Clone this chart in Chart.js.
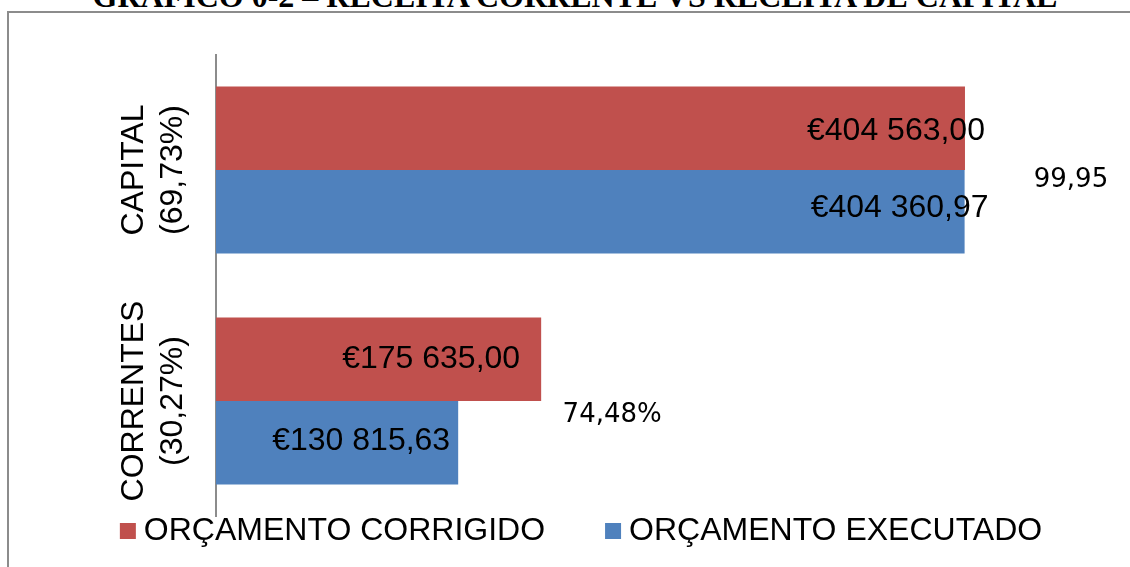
<!DOCTYPE html>
<html>
<head>
<meta charset="utf-8">
<script src="https://cdn.jsdelivr.net/npm/chart.js@4.4.1/dist/chart.umd.min.js"></script>
<style>
  html, body { margin: 0; padding: 0; background: #fff; overflow: hidden; }
  body { width: 1130px; height: 567px; position: relative; }
  #frame {
    position: absolute; left: 7px; top: 11px; width: 1300px; height: 700px;
    border-left: 2px solid #8c8c8c; border-top: 2px solid #8c8c8c;
  }
  #title {
    position: absolute; left: 0; width: 1150px; top: -22px; text-align: center;
    font: bold 32px "Liberation Serif", "Times New Roman", serif; color: #000;
    white-space: nowrap;
  }
  #wrap { position: absolute; left: 0; top: 0; width: 1130px; height: 567px; }
</style>
</head>
<body>
<div id="frame"></div>
<div id="title">GRÁFICO 0-2 – RECEITA CORRENTE VS RECEITA DE CAPITAL</div>
<div id="wrap"><canvas id="barChart"></canvas></div>
<script>
const categories = ["CAPITAL", "CORRENTES"];
const shares = ["(69,73%)", "(30,27%)"];
const corrigido = [404563.0, 175635.0];
const executado = [404360.97, 130815.63];
const execucao = ["99,95", "74,48%"];

const seriesNames = ["ORÇAMENTO CORRIGIDO", "ORÇAMENTO EXECUTADO"];
const seriesColors = ["#C0504D", "#4F81BD"];

function euro(v) {
  const parts = v.toFixed(2).split(".");
  const int = parts[0].replace(/\B(?=(\d{3})+(?!\d))/g, " ");
  return "€" + int + "," + parts[1];
}

// label shifts from bar end: [dataset][bar] -> [dx, dy]
const labelShift = [
  [[-69, 3], [-110, 0]],
  [[-65, -4], [-97, -2]],
];
const ratioShift = [[106, 10], [71, 14]];

const overlay = {
  id: "overlay",
  afterDatasetsDraw(chart) {
    const ctx = chart.ctx;
    const yScale = chart.scales.y;
    ctx.save();
    ctx.fillStyle = "#000";

    // value labels
    ctx.font = '32px "Liberation Sans", Arial, sans-serif';
    ctx.textAlign = "center";
    ctx.textBaseline = "middle";
    chart.data.datasets.forEach((ds, i) => {
      chart.getDatasetMeta(i).data.forEach((bar, j) => {
        const s = labelShift[i][j];
        ctx.fillText(euro(ds.data[j]), bar.x + s[0], bar.y + s[1]);
      });
    });

    // execution ratio
    ctx.font = '26px "DejaVu Sans", sans-serif';
    const redMeta = chart.getDatasetMeta(0);
    execucao.forEach((t, j) => {
      const bar = redMeta.data[j];
      ctx.fillText(t, bar.x + ratioShift[j][0], yScale.getPixelForValue(j) + ratioShift[j][1]);
    });

    // rotated category labels
    ctx.font = '32px "Liberation Sans", Arial, sans-serif';
    categories.forEach((c, j) => {
      const yc = yScale.getPixelForValue(j);
      ctx.save();
      ctx.translate(134, yc);
      ctx.rotate(-Math.PI / 2);
      ctx.fillText(c, 0, 0);
      ctx.fillText(shares[j], 0, 39);
      ctx.restore();
    });

    // legend
    ctx.textAlign = "left";
    const box = 16, gapText = 8, gapItem = 60;
    const widths = seriesNames.map((n) => ctx.measureText(n).width);
    const total = widths.reduce((a, w) => a + box + gapText + w, 0) + gapItem;
    let x = (32 + chart.width) / 2 - total / 2;
    const ly = 531;
    seriesNames.forEach((n, i) => {
      ctx.fillStyle = seriesColors[i];
      ctx.fillRect(x, ly - 8, box, box);
      ctx.fillStyle = "#000";
      ctx.fillText(n, x + box + gapText, ly);
      x += box + gapText + widths[i] + gapItem;
    });
    ctx.restore();
  },
};

new Chart(document.getElementById("barChart"), {
  type: "bar",
  data: {
    labels: categories,
    datasets: [
      { label: seriesNames[0], data: corrigido, backgroundColor: seriesColors[0] },
      { label: seriesNames[1], data: executado, backgroundColor: seriesColors[1] },
    ],
  },
  options: {
    indexAxis: "y",
    responsive: true,
    maintainAspectRatio: false,
    animation: false,
    categoryPercentage: 0.723,
    barPercentage: 1,
    layout: { padding: { top: 54.5, left: 32, right: 0, bottom: 50.5 } },
    scales: {
      x: { display: false, min: 0, max: 493700 },
      y: {
        grid: { display: false },
        border: { color: "#8c8c8c", width: 2 },
        ticks: { display: false },
        afterFit(scale) {
          scale.width = 184;
        },
      },
    },
    plugins: {
      legend: { display: false },
      tooltip: { enabled: false },
    },
  },
  plugins: [overlay],
});
</script>
</body>
</html>
